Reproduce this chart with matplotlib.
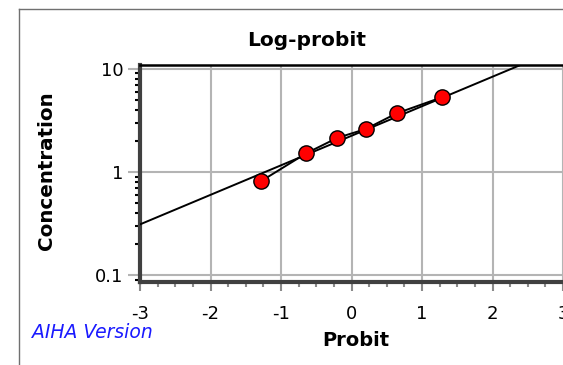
import numpy as np
import matplotlib
matplotlib.use("Agg")
import matplotlib.pyplot as plt
from matplotlib.ticker import LogLocator, FixedLocator, NullFormatter

# Data
probit = [-1.28, -0.64, -0.20, 0.20, 0.64, 1.28]
concentration = [0.818, 1.52, 2.14, 2.60, 3.69, 5.27]
fit_gm = 2.24      # concentration at probit 0 on the fitted line
fit_gsd = 1.93     # multiplicative change per probit unit
x_ticks = [-3, -2, -1, 0, 1, 2, 3]
x_tick_labels = ["-3", "-2", "-1", "0", "1", "2", "3"]
y_ticks = [0.1, 1, 10]
y_tick_labels = ["0.1", "1", "10"]

W, H = 563, 365
fig = plt.figure(figsize=(W / 100, H / 100), dpi=100)
plt.rcParams['font.family'] = ['DejaVu Sans']

# outer frame
fig.add_artist(plt.Line2D([19 / W, 19 / W], [0, 1 - 9 / H], transform=fig.transFigure,
                          color="#707070", lw=1.0))
fig.add_artist(plt.Line2D([19 / W, 1], [1 - 9 / H, 1 - 9 / H], transform=fig.transFigure,
                          color="#707070", lw=1.0))

left, right, top, bottom = 140 / W, 1.0, 1 - 64.7 / H, 1 - 281.7 / H
ax = fig.add_axes([left, bottom, right - left, top - bottom])
ax.set_yscale("log")
ax.set_xlim(-3, 3)
ax.set_ylim(0.087, 10.9)

ax.grid(True, which="major", color="#b4b4b4", lw=1.5)
ax.set_axisbelow(True)

xs = np.linspace(-3, 3, 200)
ax.plot(xs, fit_gm * fit_gsd ** xs, color="black", lw=1.4, zorder=3)
ax.plot(probit, concentration, color="black", lw=1.4, zorder=3)
ax.plot(probit, concentration, linestyle="none", marker="o", ms=11,
        mfc="#ff0000", mec="black", mew=1.0, zorder=4)

ax.xaxis.set_major_locator(FixedLocator(x_ticks))
ax.set_xticklabels(x_tick_labels)
ax.xaxis.set_minor_locator(FixedLocator(np.arange(-3, 3.01, 0.25)))
ax.yaxis.set_major_locator(FixedLocator(y_ticks))
ax.set_yticklabels(y_tick_labels)
ax.yaxis.set_minor_locator(LogLocator(base=10, subs=np.arange(2, 10)))
ax.yaxis.set_minor_formatter(NullFormatter())

ax.tick_params(axis="x", which="major", length=6.5, width=1.5, color="#8a8a8a",
               labelsize=13, pad=10.5)
ax.tick_params(axis="x", which="minor", length=3.6, width=1.5, color="#8a8a8a")
ax.tick_params(axis="y", which="major", length=9, width=1.5, color="#b4b4b4",
               labelsize=13, pad=3)
ax.tick_params(axis="y", which="minor", length=3.6, width=1.5, color="black")

for s in ["left", "bottom"]:
    ax.spines[s].set_color("#404040")
    ax.spines[s].set_linewidth(3.0)
ax.spines["top"].set_color("black")
ax.spines["top"].set_linewidth(1.8)
ax.spines["right"].set_visible(False)

fig.text(307 / W, 1 - 41 / H, "Log-probit", ha="center", va="center",
         fontsize=14.5, fontweight="bold")
fig.text(356 / W, 1 - 341 / H, "Probit", ha="center", va="center",
         fontsize=14, fontweight="bold")
fig.text(47 / W, 1 - 171 / H, "Concentration", ha="center", va="center",
         rotation=90, fontsize=14.3, fontweight="bold")
fig.text(32 / W, 1 - 332 / H, "AIHA Version", ha="left", va="center",
         fontsize=13.5, fontstyle="italic", color="#1a1aff")

fig.savefig("out.png", dpi=100)
